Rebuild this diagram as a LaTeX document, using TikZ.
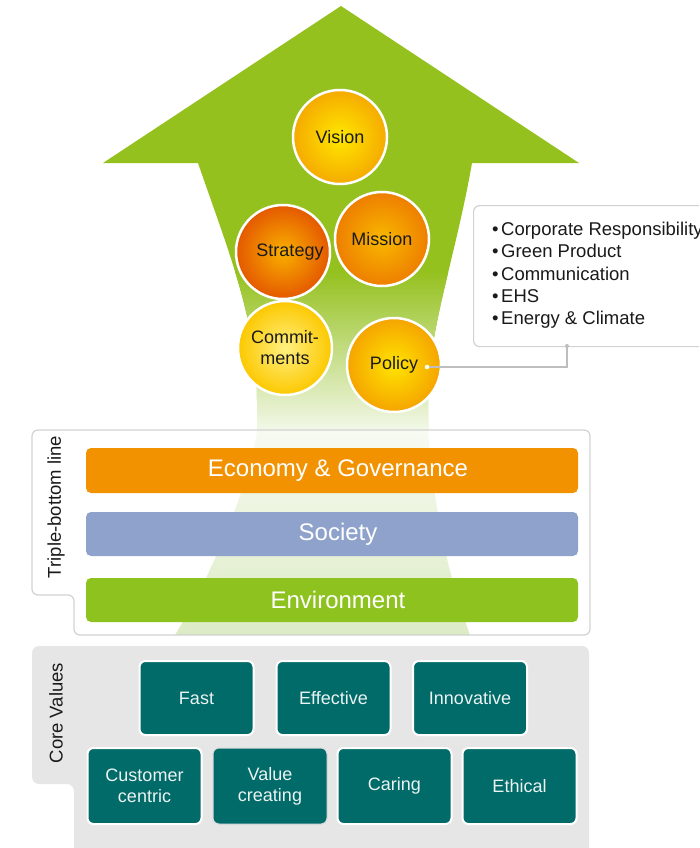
\documentclass[tikz,border=0pt]{standalone}
\usepackage{fontspec}
\setmainfont{Liberation Sans}
\definecolor{arrowgreen}{RGB}{149,193,31}
\definecolor{shaftpale}{RGB}{243,248,234}
\definecolor{trapTop}{RGB}{247,250,241}
\definecolor{trapMid}{RGB}{227,239,211}
\definecolor{trapBot}{RGB}{220,235,197}
\definecolor{econ}{RGB}{243,146,0}
\definecolor{soc}{RGB}{142,162,203}
\definecolor{env}{RGB}{141,194,31}
\definecolor{cvteal}{RGB}{0,107,104}
\definecolor{cvtext}{RGB}{236,243,243}
\definecolor{panelgray}{RGB}{230,230,230}
\definecolor{linegray}{RGB}{210,210,210}
\definecolor{conngray}{RGB}{190,190,190}
\definecolor{txt}{RGB}{26,26,26}
\definecolor{visIn}{RGB}{255,232,0}
\definecolor{visOut}{RGB}{245,170,0}
\definecolor{strIn}{RGB}{249,176,0}
\definecolor{strOut}{RGB}{228,88,0}
\definecolor{misIn}{RGB}{248,184,0}
\definecolor{misOut}{RGB}{238,126,0}
\definecolor{comIn}{RGB}{255,240,128}
\definecolor{comOut}{RGB}{252,200,0}
\definecolor{polIn}{RGB}{255,228,0}
\definecolor{polOut}{RGB}{245,164,0}
\begin{document}
\begin{tikzpicture}[x=1pt,y=-1pt,
  circ/.style={circle, draw=white, line width=2.5pt, minimum size=94pt, inner sep=0pt,
    font=\fontsize{18}{21}\selectfont, text=txt, align=center},
  bar/.style={rounded corners=5pt, minimum width=492pt, text=white, inner sep=0pt,
    font=\fontsize{24}{28}\selectfont},
  cv/.style={draw=white, line width=2pt, fill=cvteal, rounded corners=6pt, text=cvtext,
    font=\fontsize{18}{21}\selectfont, align=center, inner sep=0pt, minimum width=114pt},
  vlabel/.style={rotate=90, font=\fontsize{18.5}{22}\selectfont, text=txt, inner sep=0pt},
  bul/.style={anchor=base west, inner sep=0pt, font=\fontsize{18.5}{22}\selectfont, text=txt},
  conn/.style={draw=conngray, line width=1.1pt},
  calloutbox/.style={draw=linegray, line width=1.2pt, rounded corners=6pt, fill=white,
    minimum width=300pt, minimum height=141pt, anchor=north west, inner sep=0pt}
]
\clip (0,0) rectangle (699,848);

% core values panel
\fill[panelgray, rounded corners=7pt]
  (32,646) -- (589,646) -- (589,870) -- (74,870) -- (74,784) -- (32,784) -- cycle;

% big arrow
\fill[arrowgreen] (103,163) -- (341,6) -- (579,163) -- (472,163)
  .. controls (455,260) and (428,330) .. (428,400) -- (428,431) -- (257,431) -- (257,400)
  .. controls (257,320) and (228,250) .. (198,163) -- cycle;
\begin{scope}
  \clip (472,163) .. controls (455,260) and (428,330) .. (428,400) -- (428,431)
    -- (257,431) -- (257,400) .. controls (257,320) and (228,250) .. (198,163) -- cycle;
  \shade[top color=arrowgreen, bottom color=shaftpale] (150,272) rectangle (500,431);
\end{scope}

% faded shaft below
\shade[top color=trapTop, middle color=trapMid, bottom color=trapBot]
  (257,431) -- (428,431) .. controls (435,520) and (450,580) .. (470,635)
  -- (175,635) .. controls (215,570) and (250,480) .. (257,431) -- cycle;

% triple bottom line panel
\draw[linegray, line width=1.2pt, rounded corners=6pt]
  (32,430) -- (590,430) -- (590,635) -- (74,635) -- (74,595) -- (32,595) -- cycle;
\node[vlabel] (tbl) at (56,507) {Triple-bottom line};

\node[bar, fill=econ, minimum height=45pt] (econ) at (332,470.5) {\hspace*{12pt}Economy \& Governance};
\node[bar, fill=soc, minimum height=44pt] (soc) at (332,534) {\hspace*{12pt}Society};
\node[bar, fill=env, minimum height=44pt] (env) at (332,600) {\hspace*{12pt}Environment};

% core values
\node[vlabel] (cvl) at (56,713) {Core Values};
\node[cv, minimum height=74pt] (fast) at (196.5,698) {Fast};
\node[cv, minimum height=74pt] (eff) at (333.5,698) {Effective};
\node[cv, minimum height=74pt] (inno) at (470,698) {Innovative};
\node[cv, minimum height=76pt] (cust) at (144.5,786) {Customer\\centric};
\node[cv, minimum height=76pt, draw=black!14, line width=1pt] (valc) at (270,786) {Value\\creating};
\node[cv, minimum height=76pt] (car) at (394.5,786) {Caring};
\node[cv, minimum height=76pt] (eth) at (519.5,786) {Ethical};

% circles
\node[circ, inner color=visIn, outer color=visOut] (vision) at (340,137) {Vision};
\node[circ, inner color=misIn, outer color=misOut] (mission) at (382,239) {Mission};
\node[circ, inner color=strIn, outer color=strOut] (strategy) at (283,252) {\hspace*{14pt}Strategy};
\node[circ, inner color=comIn, outer color=comOut] (commit) at (285,348) {Commit-\\ments};
\node[circ, inner color=polIn, outer color=polOut] (policy) at (394,365) {Policy};

% callout
\node[calloutbox] (callout) at (473,205) {};
\foreach \t [count=\i from 0] in {Corporate Responsibility, Green Product, Communication, EHS, Energy \& Climate}
  \node[bul] (b\i) at (492,{235.5+22.3*\i}) {•\hspace{2.5pt}\t};

\coordinate (pdot) at (427,367);
\coordinate (cb) at (567,346);
\draw[conn] (pdot) -| (cb);
\fill[white!90!yellow] (pdot) circle (2.3pt);
\fill[conngray] (cb) circle (2pt);
\end{tikzpicture}
\end{document}
